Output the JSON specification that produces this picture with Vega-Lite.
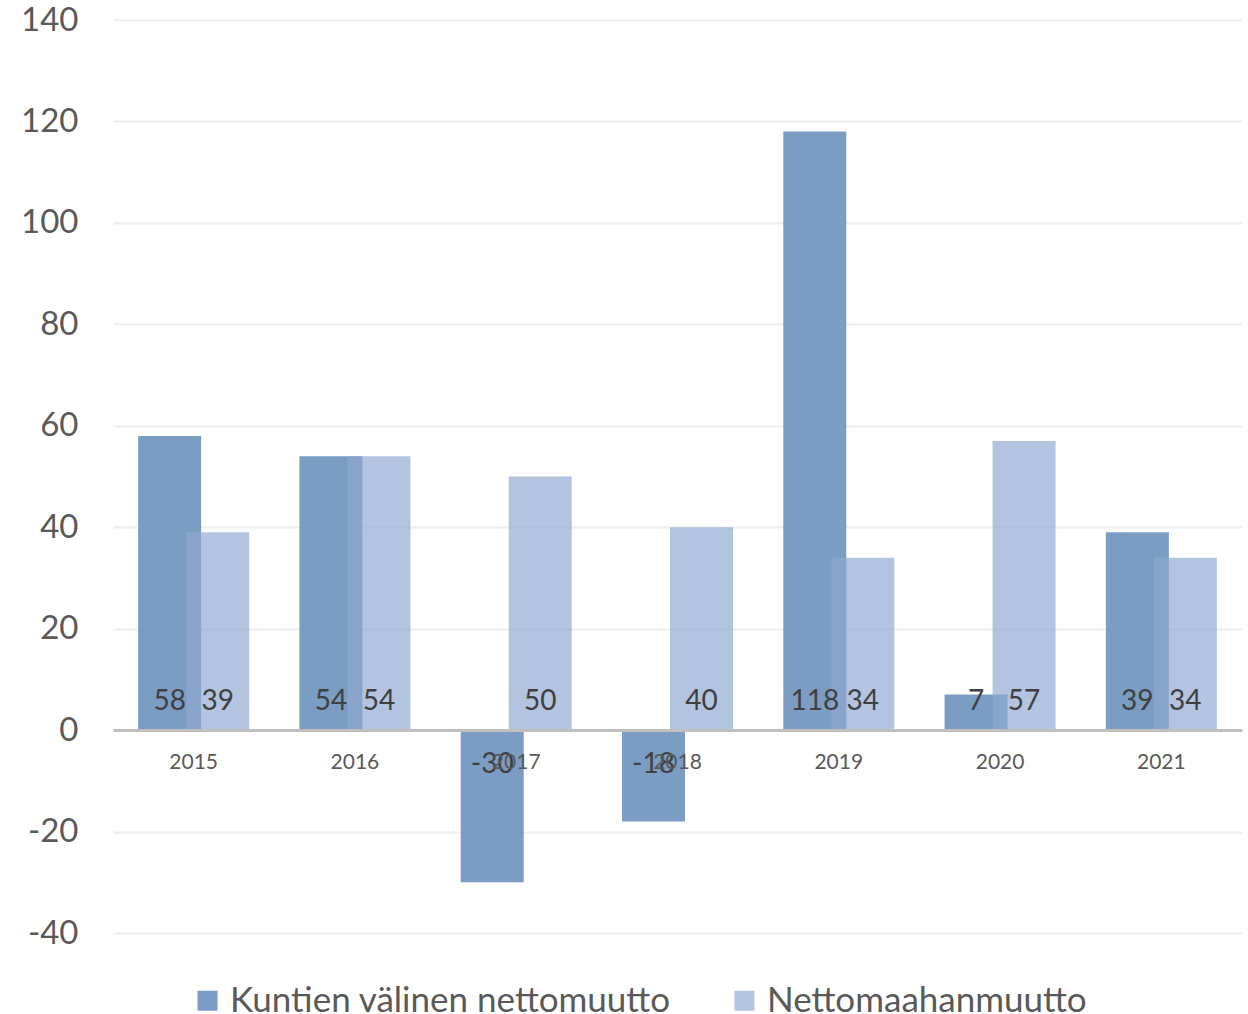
{
  "$schema": "https://vega.github.io/schema/vega-lite/v6.json",
  "width": 1129,
  "height": 913,
  "autosize": {"type": "none"},
  "padding": {"left": 113, "top": 20, "right": 6, "bottom": 81},
  "background": "white",
  "config": {
    "view": {"stroke": null},
    "font": "Lato",
    "axis": {"labelFont": "Lato", "labelColor": "#595959"},
    "legend": {"labelFont": "Lato"}
  },
  "data": {
    "values": [
      {"vuosi": "2015", "sarja": "Kuntien välinen nettomuutto", "arvo": 58},
      {"vuosi": "2016", "sarja": "Kuntien välinen nettomuutto", "arvo": 54},
      {"vuosi": "2017", "sarja": "Kuntien välinen nettomuutto", "arvo": -30},
      {"vuosi": "2018", "sarja": "Kuntien välinen nettomuutto", "arvo": -18},
      {"vuosi": "2019", "sarja": "Kuntien välinen nettomuutto", "arvo": 118},
      {"vuosi": "2020", "sarja": "Kuntien välinen nettomuutto", "arvo": 7},
      {"vuosi": "2021", "sarja": "Kuntien välinen nettomuutto", "arvo": 39},
      {"vuosi": "2015", "sarja": "Nettomaahanmuutto", "arvo": 39},
      {"vuosi": "2016", "sarja": "Nettomaahanmuutto", "arvo": 54},
      {"vuosi": "2017", "sarja": "Nettomaahanmuutto", "arvo": 50},
      {"vuosi": "2018", "sarja": "Nettomaahanmuutto", "arvo": 40},
      {"vuosi": "2019", "sarja": "Nettomaahanmuutto", "arvo": 34},
      {"vuosi": "2020", "sarja": "Nettomaahanmuutto", "arvo": 57},
      {"vuosi": "2021", "sarja": "Nettomaahanmuutto", "arvo": 34}
    ]
  },
  "encoding": {
    "x": {
      "field": "vuosi",
      "type": "nominal",
      "scale": {"paddingInner": 0, "paddingOuter": 0},
      "axis": {
        "title": null,
        "labelAngle": 0,
        "offset": -203,
        "ticks": false,
        "domainColor": "#bfbfbf",
        "domainWidth": 3,
        "labelFontSize": 21,
        "labelPadding": 21,
        "zindex": 1
      }
    },
    "y": {
      "field": "arvo",
      "type": "quantitative",
      "scale": {"domain": [-40, 140], "nice": false, "zero": true},
      "axis": {
        "title": null,
        "values": [-40, -20, 0, 20, 40, 60, 80, 100, 120, 140],
        "labelExpr": "toString(datum.value)",
        "domain": false,
        "ticks": false,
        "labelFontSize": 33,
        "labelPadding": 35,
        "gridColor": "#eeeeee",
        "gridWidth": 2
      }
    }
  },
  "layer": [
    {
      "transform": [{"filter": "datum.sarja === 'Kuntien välinen nettomuutto'"}],
      "mark": {"type": "bar", "width": 63, "xOffset": -24},
      "encoding": {
        "color": {
          "field": "sarja",
          "type": "nominal",
          "scale": {"domain": ["Kuntien välinen nettomuutto", "Nettomaahanmuutto"], "range": ["#7b9cc3", "#90aad1"]},
          "legend": {
            "title": null,
            "orient": "none",
            "legendX": 77,
            "legendY": 963,
            "direction": "horizontal",
            "symbolType": "square",
            "symbolSize": 400,
            "symbolStrokeWidth": 0,
            "labelFontSize": 35,
            "labelColor": "#595959",
            "labelOffset": 5,
            "labelLimit": 1000,
            "columnPadding": 56
          }
        },
        "opacity": {
          "field": "sarja",
          "type": "nominal",
          "scale": {"domain": ["Kuntien välinen nettomuutto", "Nettomaahanmuutto"], "range": [1, 0.69]}
        }
      }
    },
    {
      "transform": [{"filter": "datum.sarja === 'Nettomaahanmuutto'"}],
      "mark": {"type": "bar", "width": 63, "xOffset": 24},
      "encoding": {
        "color": {"field": "sarja", "type": "nominal"},
        "opacity": {"field": "sarja", "type": "nominal"}
      }
    },
    {
      "mark": {
        "type": "text",
        "fontSize": 28,
        "color": "#404040",
        "baseline": "middle",
        "align": "center",
        "text": {"expr": "toString(datum.arvo)"},
        "xOffset": {"expr": "datum.sarja === 'Nettomaahanmuutto' ? 24 : -24"},
        "dy": {"expr": "datum.arvo < 0 ? 35 : -28"}
      },
      "encoding": {
        "y": {"datum": 0}
      }
    }
  ]
}
